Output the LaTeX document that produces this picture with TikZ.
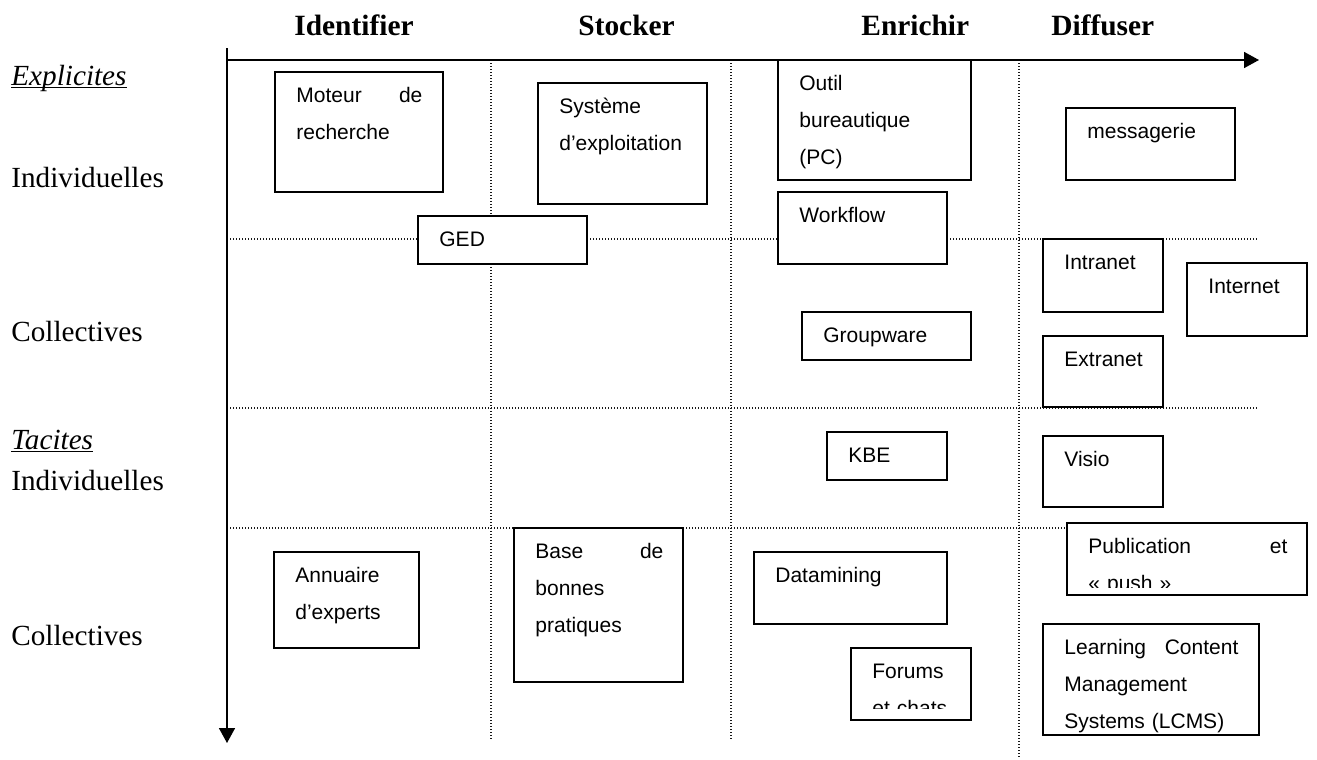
\documentclass[tikz,border=0pt]{standalone}
\usepackage{fontspec}
\setmainfont{Liberation Serif}
\newfontfamily\sansbox{Liberation Sans}
\usetikzlibrary{arrows.meta}

\begin{document}
\begin{tikzpicture}[
  x=0.5pt, y=-0.5pt,
  boite/.style={draw, fill=white, line width=0.8pt, inner sep=0pt,
                outer sep=0pt, anchor=north west},
  texte/.style={anchor=base west, inner sep=0pt, align=left,
                font=\sansbox\fontsize{10.5}{18.5}\selectfont},
  titre/.style={anchor=base west, inner sep=0pt,
                font=\fontsize{14.7}{18}\selectfont\bfseries},
  rangee/.style={anchor=base west, inner sep=0pt,
                 font=\fontsize{14.6}{18}\selectfont},
  grille/.style={line width=0.6pt, dash pattern=on 0.6pt off 0.9pt, black!90},
  axe/.style={line width=0.8pt, -{Triangle[length=7.5pt, width=8pt]}}
]
  \useasboundingbox (0,0) rectangle (1317,760);

  % Grid
  \foreach \y in {239,408,528}
    \draw[grille] (230,\y) -- (1257,\y);
  \foreach \x/\b in {491/740, 731/740, 1019/758}
    \draw[grille] (\x,60) -- (\x,\b);

  % Column titles
  \node[titre] (ident) at (294,35) {Identifier};
  \node[titre] (stock) at (578,35) {Stocker};
  \node[titre] (enrich) at (861,35) {Enrichir};
  \node[titre] (diff) at (1051,35) {Diffuser};

  % Row titles
  \node[rangee] (expl) at (11,85) {\itshape Explicites};
  \draw[line width=0.7pt] ([yshift=-1.25pt]expl.base west) -- ([yshift=-1.25pt]expl.base east);
  \node[rangee] (indiv1) at (11,187) {Individuelles};
  \node[rangee] (coll1) at (11,341) {Collectives};
  \node[rangee] (tac) at (11,449) {\itshape Tacites};
  \draw[line width=0.7pt] ([yshift=-1.25pt]tac.base west) -- ([yshift=-1.25pt]tac.base east);
  \node[rangee] (indiv2) at (11,490) {Individuelles};
  \node[rangee] (coll2) at (11,645) {Collectives};

  % Explicit, individual
  \node[boite, minimum width=84pt, minimum height=60pt] (moteur) at (275,72) {};
  \node[texte, text width=63pt] (moteur-t) at ([shift={(10.5pt,-15.25pt)}]moteur.north west) {Moteur\hfill de\\recherche};
  \node[boite, minimum width=84.5pt, minimum height=60.5pt] (systeme) at (538,83) {};
  \node[texte, text width=64pt] (systeme-t) at ([shift={(10.5pt,-15.25pt)}]systeme.north west) {Système\\d’exploitation};
  \node[boite, minimum width=96.5pt, minimum height=60pt] (outil) at (778,60) {};
  \node[texte, text width=75pt] (outil-t) at ([shift={(10.5pt,-15.25pt)}]outil.north west) {Outil\\bureautique\\(PC)};
  \node[boite, minimum width=84.5pt, minimum height=36pt] (messag) at (1066,108) {};
  \node[texte, text width=64pt] (messag-t) at ([shift={(10.5pt,-15.25pt)}]messag.north west) {messagerie};
  \node[boite, minimum width=84.5pt, minimum height=24pt] (ged) at (418,216) {};
  \node[texte, text width=64pt] (ged-t) at ([shift={(10.5pt,-15.25pt)}]ged.north west) {GED};
  \node[boite, minimum width=84.5pt, minimum height=36pt] (workflow) at (778,192) {};
  \node[texte, text width=64pt] (workflow-t) at ([shift={(10.5pt,-15.25pt)}]workflow.north west) {Workflow};

  % Explicit, collective
  \node[boite, minimum width=60pt, minimum height=36.5pt] (intranet) at (1043,239) {};
  \node[texte, text width=40pt] (intranet-t) at ([shift={(10.5pt,-15.25pt)}]intranet.north west) {Intranet};
  \node[boite, minimum width=60pt, minimum height=36.5pt] (internet) at (1187,263) {};
  \node[texte, text width=40pt] (internet-t) at ([shift={(10.5pt,-15.25pt)}]internet.north west) {Internet};
  \node[boite, minimum width=84.5pt, minimum height=24pt] (groupw) at (802,312) {};
  \node[texte, text width=64pt] (groupw-t) at ([shift={(10.5pt,-15.25pt)}]groupw.north west) {Groupware};
  \node[boite, minimum width=60pt, minimum height=35.5pt] (extranet) at (1043,336) {};
  \node[texte, text width=40pt] (extranet-t) at ([shift={(10.5pt,-15.25pt)}]extranet.north west) {Extranet};

  % Tacit, individual
  \node[boite, minimum width=60pt, minimum height=24pt] (kbe) at (827,432) {};
  \node[texte, text width=40pt] (kbe-t) at ([shift={(10.5pt,-15.25pt)}]kbe.north west) {KBE};
  \node[boite, minimum width=60pt, minimum height=35.5pt] (visio) at (1043,436) {};
  \node[texte, text width=40pt] (visio-t) at ([shift={(10.5pt,-15.25pt)}]visio.north west) {Visio};

  % Tacit, collective
  \node[boite, minimum width=72.5pt, minimum height=48pt] (annuaire) at (274,552) {};
  \node[texte, text width=52pt] (annuaire-t) at ([shift={(10.5pt,-15.25pt)}]annuaire.north west) {Annuaire\\d’experts};
  \node[boite, minimum width=84.5pt, minimum height=77pt] (base) at (514,528) {};
  \node[texte, text width=64pt] (base-t) at ([shift={(10.5pt,-15.25pt)}]base.north west) {Base\hfill de\\bonnes\\pratiques};
  \node[boite, minimum width=96.5pt, minimum height=36pt] (datamin) at (754,552) {};
  \node[texte, text width=75pt] (datamin-t) at ([shift={(10.5pt,-15.25pt)}]datamin.north west) {Datamining};
  \node[boite, minimum width=60pt, minimum height=36pt] (forums) at (851,648) {};
  \begin{scope}
    \clip (forums.north west) rectangle ([yshift=6pt]forums.south east);
    \node[texte, text width=40pt] (forums-t) at ([shift={(10.5pt,-15.25pt)}]forums.north west) {Forums\\et chats};
  \end{scope}
  \node[boite, minimum width=120pt, minimum height=36pt] (public) at (1067,523) {};
  \begin{scope}
    \clip (public.north west) rectangle ([yshift=4pt]public.south east);
    \node[texte, text width=99.5pt] (public-t) at ([shift={(10.5pt,-15.25pt)}]public.north west) {Publication\hfill et\\«~push~»};
  \end{scope}
  \node[boite, minimum width=108pt, minimum height=55.5pt] (lcms) at (1043,624) {};
  \node[texte, text width=87pt] (lcms-t) at ([shift={(10.5pt,-15.25pt)}]lcms.north west) {Learning\hfill Content\\Management\\Systems (LCMS)};

  % Axes
  \coordinate (origine) at (227,60);
  \coordinate (finx) at (1259,60);
  \coordinate (haut) at (227,48);
  \coordinate (finy) at (227,743);
  \draw[axe] (haut) -- (finy);
  \draw[axe] (origine) -- (finx);
\end{tikzpicture}
\end{document}
